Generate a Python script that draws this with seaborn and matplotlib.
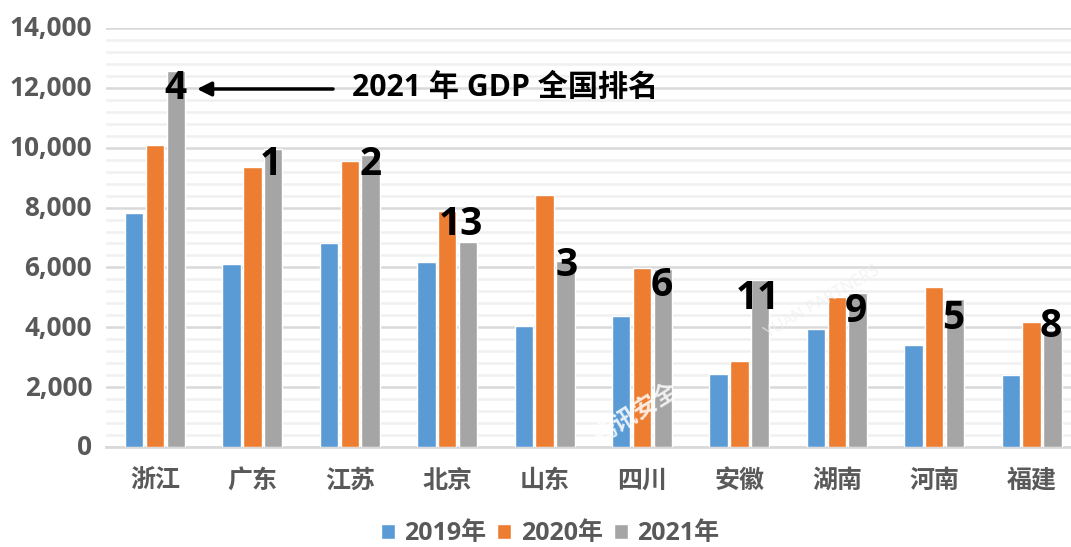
import matplotlib
matplotlib.use("Agg")
import matplotlib.pyplot as plt
import matplotlib.transforms as mtrans
import seaborn as sns
import pandas as pd
from matplotlib.ticker import MultipleLocator, FuncFormatter

provinces = ["浙江", "广东", "江苏", "北京", "山东", "四川", "安徽", "湖南", "河南", "福建"]
gdp_2019 = [7830, 6130, 6820, 6190, 4050, 4370, 2450, 3940, 3420, 2420]
gdp_2020 = [10090, 9370, 9550, 7890, 8420, 5970, 2870, 5020, 5350, 4160]
gdp_2021 = [12550, 9970, 9760, 6840, 6200, 5960, 5570, 5150, 4950, 3900]
ranks = ["4", "1", "2", "13", "3", "6", "11", "9", "5", "8"]
# where each rank number sits, in data units: category offset and height
rank_dx = [0.21, 0.19, 0.21, 0.14, 0.23, 0.20, 0.185, 0.20, 0.19, 0.20]
rank_y = [11970, 9450, 9430, 7430, 6060, 5400, 4970, 4530, 4300, 4030]
years = ["2019年", "2020年", "2021年"]
colors = ["#5B9BD5", "#ED7D31", "#A5A5A5"]

df = pd.DataFrame({"省份": provinces, years[0]: gdp_2019, years[1]: gdp_2020, years[2]: gdp_2021})
long_df = df.melt(id_vars="省份", var_name="年份", value_name="GDP")

sns.set_theme(style="white")
plt.rcParams["font.family"] = ["Open Sans", "Noto Sans CJK SC", "DejaVu Sans"]

W, H = 1071, 547
fig = plt.figure(figsize=(W / 100, H / 100), dpi=100)
L, R, T, B = 106, 1071, 28, 447
ax = fig.add_axes([L / W, 1 - B / H, (R - L) / W, (B - T) / H])

sns.barplot(data=long_df, x="省份", y="GDP", hue="年份", palette=colors, hue_order=years,
            width=0.64, gap=0.12, saturation=1, ax=ax, legend=True, zorder=3)

ax.set_ylim(0, 14000)
unit = 97.4
ax.set_xlim(-(155 - L) / unit, (R - 155) / unit)
ax.set_xlabel("")
ax.set_ylabel("")
ax.yaxis.set_major_locator(MultipleLocator(2000))
ax.yaxis.set_minor_locator(MultipleLocator(400))
ax.yaxis.set_major_formatter(FuncFormatter(lambda v, _: f"{int(v):,}"))
ax.grid(True, which="major", axis="y", color="#D9D9D9", lw=1.8, zorder=1)
ax.grid(True, which="minor", axis="y", color="#F0F0F0", lw=1.8, zorder=0)
ax.set_axisbelow(True)
for s in ["top", "right", "left"]:
    ax.spines[s].set_visible(False)
ax.spines["bottom"].set_color("#D9D9D9")
ax.spines["bottom"].set_linewidth(2)
ax.tick_params(axis="both", which="both", length=0)
ax.tick_params(axis="y", labelsize=18.8, labelcolor="#595959", pad=10)
ax.tick_params(axis="x", labelsize=18, labelcolor="#595959", pad=15.5)
shift_up = mtrans.ScaledTranslation(0, 1.5 / 72, fig.dpi_scale_trans)
for lab in ax.get_yticklabels():
    lab.set_fontweight("bold")
    lab.set_transform(lab.get_transform() + shift_up)
for lab in ax.get_xticklabels():
    lab.set_fontweight("bold")

for i, r in enumerate(ranks):
    ax.text(i + rank_dx[i], rank_y[i], r, ha="center", va="center", fontsize=28,
            fontweight="bold", color="black", zorder=6)

ax.annotate("", xy=(197, H - 89), xytext=(333, H - 89), xycoords="figure pixels",
            textcoords="figure pixels", zorder=6,
            arrowprops=dict(arrowstyle="-|>,head_length=0.7,head_width=0.35", lw=2.5, color="black",
                            shrinkA=0, shrinkB=0))
fig.text(505 / W, 1 - 88 / H, "2021 年 GDP 全国排名", ha="center", va="center", fontsize=21.7,
         fontweight="bold", color="black")

# faint watermarks
wm = dict(color="white", fontweight="bold", ha="center", va="center", zorder=7, alpha=0.85)
fig.text(636 / W, 1 - 414 / H, "腾讯安全", fontsize=17, rotation=32, **wm)
fig.text(822 / W, 1 - 302 / H, "YUAN PARTNERS", fontsize=12, rotation=30, color="#EEEEEE", alpha=0.7,
         ha="center", va="center", zorder=7)

handles, labels = ax.get_legend_handles_labels()
ax.legend_.remove()
leg = fig.legend(handles, labels, loc="center", bbox_to_anchor=(550 / W, 1 - 534 / H), ncol=3, frameon=False,
                 fontsize=18, handlelength=0.55, handleheight=0.55, handletextpad=0.38, columnspacing=0.45,
                 labelcolor="#595959", borderpad=0, borderaxespad=0)
for t in leg.get_texts():
    t.set_fontweight("bold")

fig.savefig("out.png", dpi=100, facecolor="white")
